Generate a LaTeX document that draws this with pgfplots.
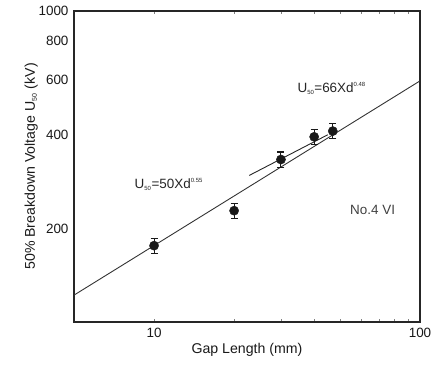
\documentclass[border=0pt]{standalone}
\usepackage{pgfplots}
\pgfplotsset{compat=1.18}
\usepackage{fontspec}
\setmainfont{Liberation Sans}
\begin{document}
\begin{tikzpicture}
\path[use as bounding box] (0,0) rectangle (432bp,367bp);
\begin{axis}[
  at={(74bp,45bp)}, anchor=south west,
  scale only axis, width=346bp, height=311bp,
  xmode=log, ymode=log,
  xmin=5, xmax=100, ymin=100, ymax=1000,
  xtick={10,100}, xticklabels={10,100},
  ytick={200,400,600,800,1000}, yticklabels={200,400,600,800,1000},
  minor tick num=0, minor xtick={}, minor ytick={},
  major tick length=0pt,
  axis line style={line width=1.1pt, black!85},
  tick label style={font=\fontsize{13.5}{15}\selectfont, text=black!90},
  /pgf/number format/assume math mode=true,
  xticklabel style={yshift=-3bp},
  yticklabel style={xshift=-2bp},
  xlabel={Gap Length (mm)},
  ylabel={50\% Breakdown Voltage U\textsubscript{\fontsize{7}{8}\selectfont 50} (kV)},
  label style={font=\fontsize{14.2}{16}\selectfont, text=black!90},
  xlabel style={yshift=2bp},
  ylabel style={yshift=-6bp},
  clip=true,
]
% fitted line U50 = 50 x d^0.55
\addplot[black!80, line width=0.9pt] coordinates {(5,122) (100,596)};
% fitted line U50 = 66 x d^0.48
\addplot[black!85, line width=0.9pt] coordinates {(22.8,296) (45,400)};
% measured points
\addplot[only marks, mark=*, mark size=4.6bp, black!90,
  error bars/.cd, y dir=both, y explicit,
  error bar style={line width=1.1pt, black!90},
  error mark options={rotate=90, mark size=3.5bp, line width=1.1pt}]
  coordinates {
    (10,176) +- (0,10)
    (20,228) +- (0,13)
    (30,333) +- (0,19)
    (40,394) +- (0,22)
    (47,411) +- (0,23)
  };
\node[anchor=west, font=\fontsize{13.5}{15}\selectfont, text=black!85] at (axis cs:8.2,277)
  {U\textsubscript{\fontsize{6}{7}\selectfont 50}=50Xd\textsuperscript{\fontsize{6}{7}\selectfont 0.55}};
\node[anchor=west, font=\fontsize{13.5}{15}\selectfont, text=black!85] at (axis cs:33.6,564)
  {U\textsubscript{\fontsize{6}{7}\selectfont 50}=66Xd\textsuperscript{\fontsize{6}{7}\selectfont 0.48}};
\node[anchor=west, font=\fontsize{13.5}{15}\selectfont, text=black!75] at (axis cs:53,230) {No.4 VI};
\end{axis}
\end{tikzpicture}
\end{document}
